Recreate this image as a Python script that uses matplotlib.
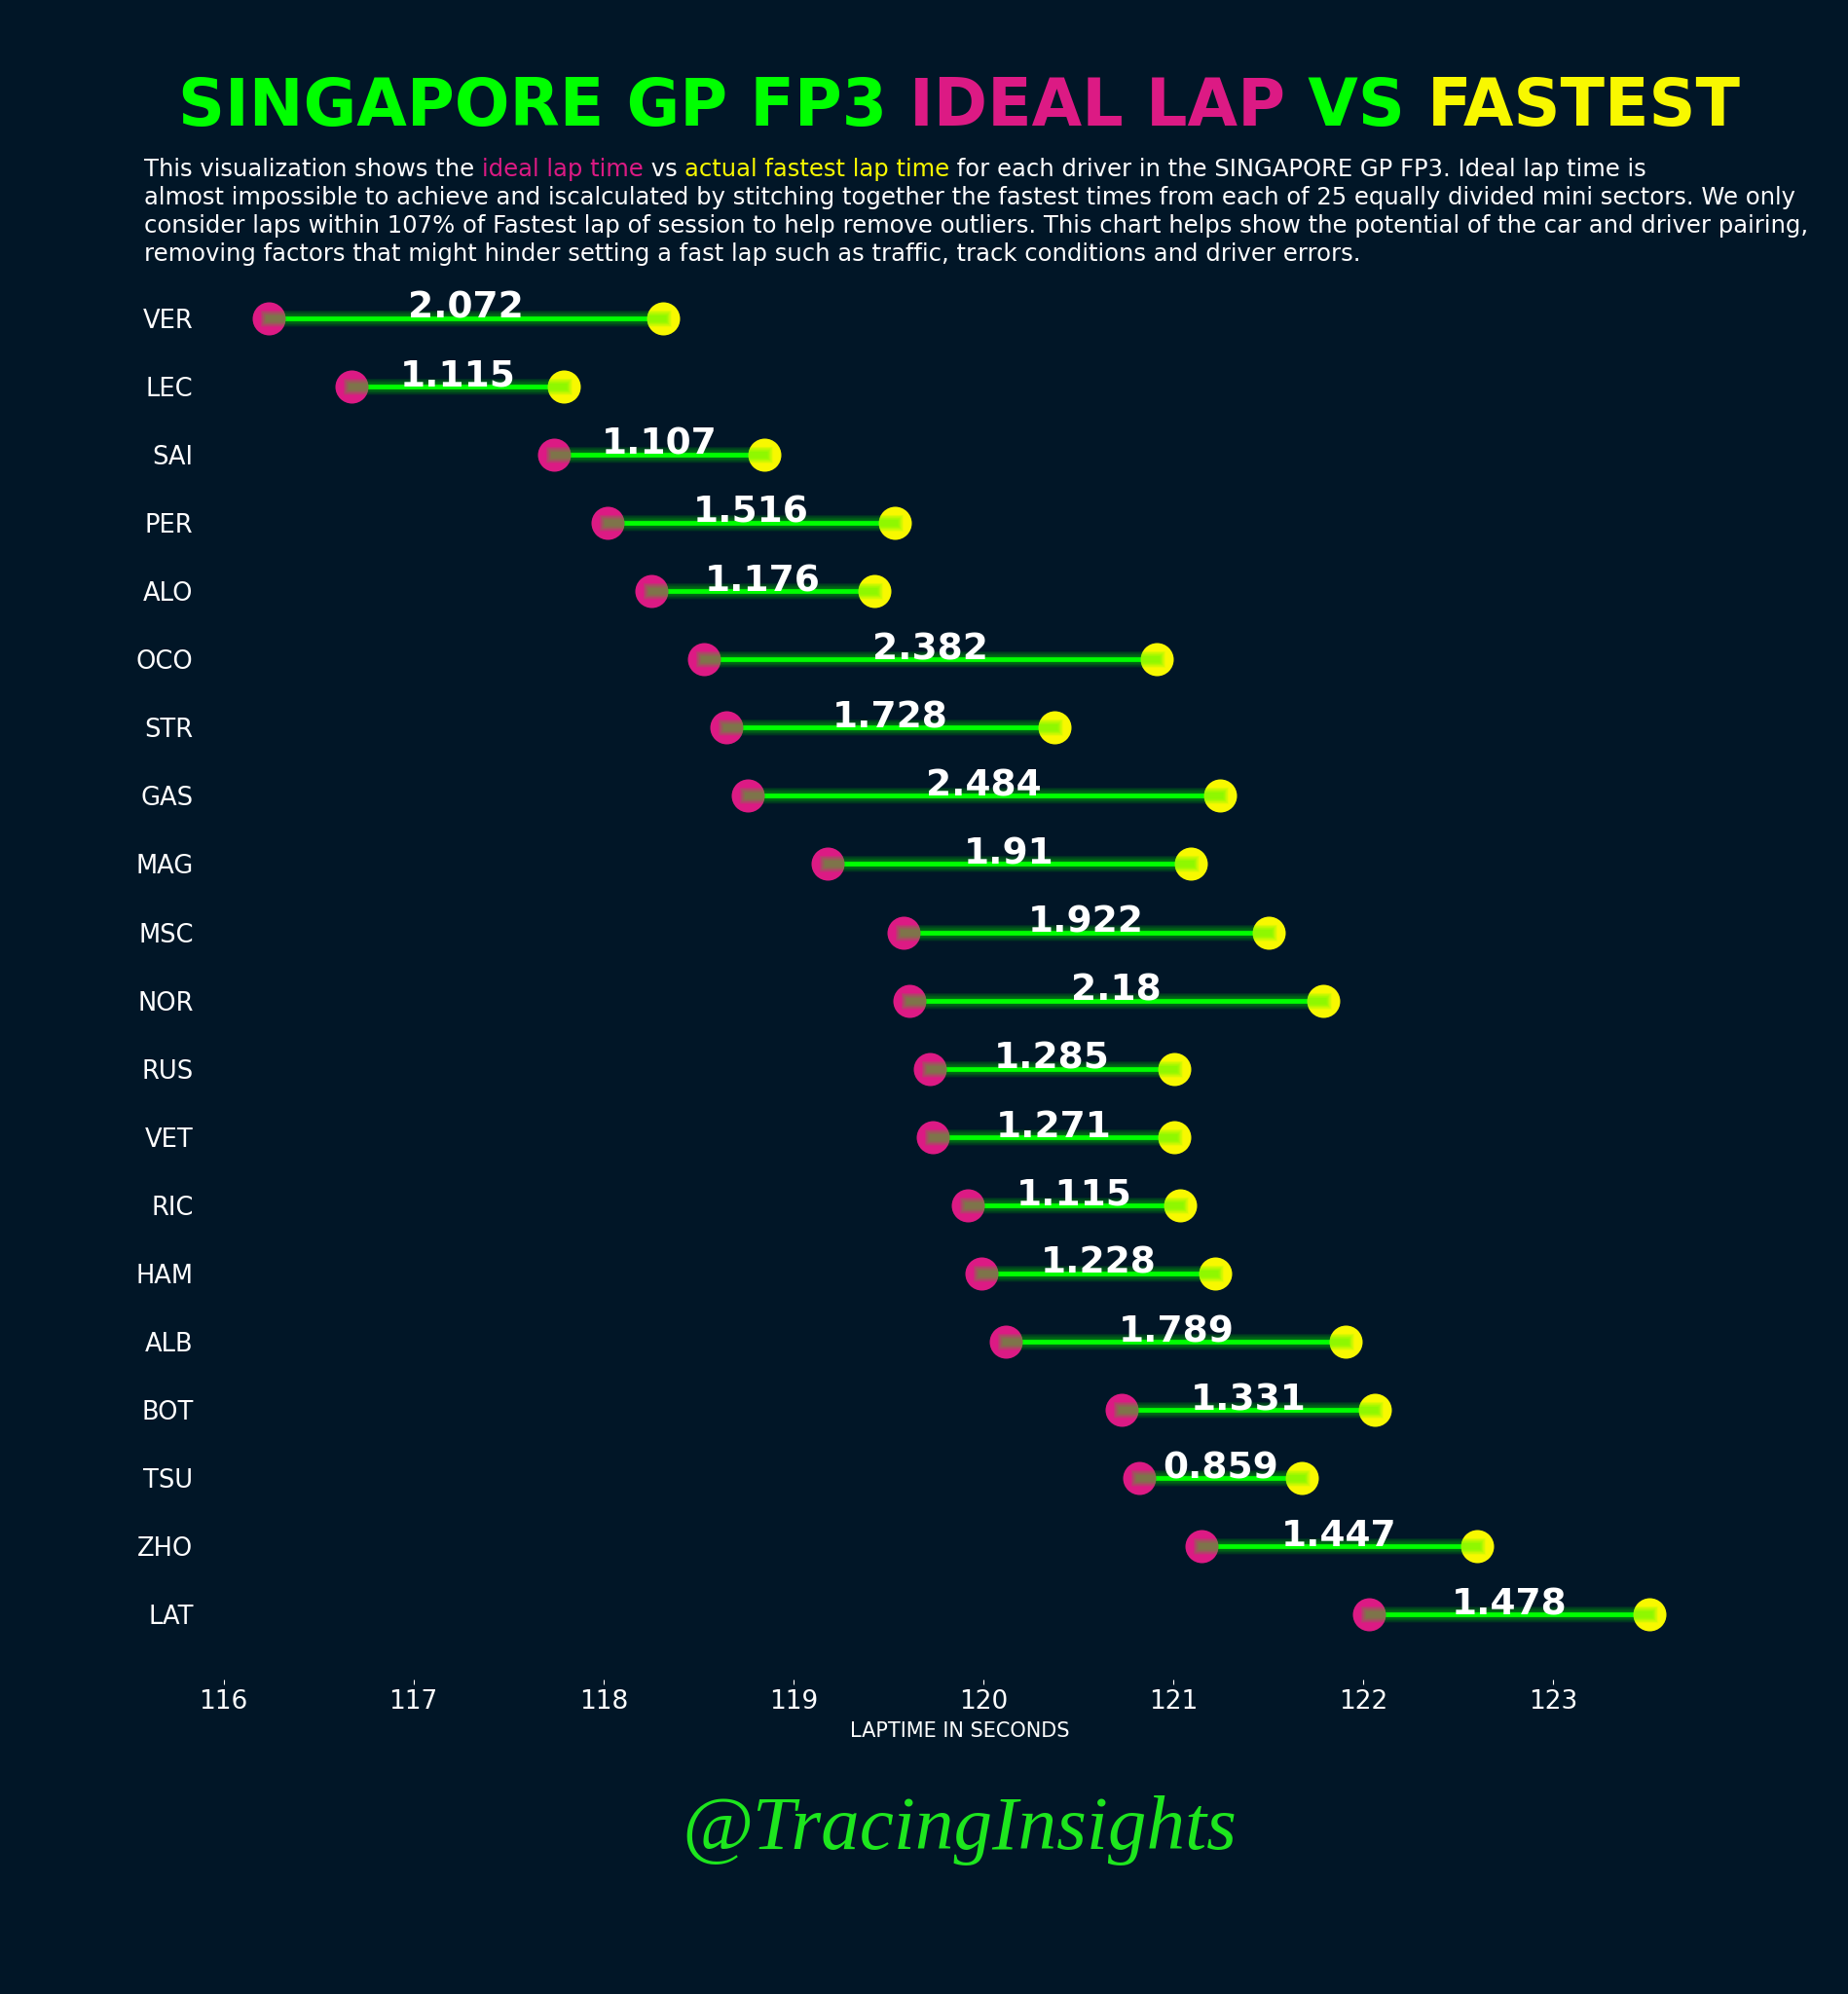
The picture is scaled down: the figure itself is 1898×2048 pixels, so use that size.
import numpy as np
import matplotlib.pyplot as plt

# lap data (seconds)
drivers = ['VER', 'LEC', 'SAI', 'PER', 'ALO', 'OCO', 'STR', 'GAS', 'MAG', 'MSC',
           'NOR', 'RUS', 'VET', 'RIC', 'HAM', 'ALB', 'BOT', 'TSU', 'ZHO', 'LAT']
ideal_lap = [116.240, 116.675, 117.740, 118.020, 118.250, 118.530, 118.645, 118.760,
             119.180, 119.580, 119.610, 119.720, 119.735, 119.920, 119.990, 120.120,
             120.730, 120.820, 121.150, 122.030]
gap = [2.072, 1.115, 1.107, 1.516, 1.176, 2.382, 1.728, 2.484, 1.91, 1.922,
       2.18, 1.285, 1.271, 1.115, 1.228, 1.789, 1.331, 0.859, 1.447, 1.478]
fastest_lap = [i + g for i, g in zip(ideal_lap, gap)]

session = 'SINGAPORE GP FP3'

bg = '#011627'
green = '#00ff00'
pink = '#dc1a84'
yellow = '#f8f800'

plt.rcParams['font.family'] = ['DejaVu Sans']

fig = plt.figure(figsize=(18.98, 20.48), dpi=100, facecolor=bg)
ax = fig.add_axes([0.1083, 0.1577, 0.8217, 0.7153])
ax.set_facecolor(bg)

y = np.arange(len(drivers))

# core line, then dots, then the glow on top (like mplcyberpunk)
ax.hlines(y, ideal_lap, fastest_lap, color=green, lw=3.5, zorder=2)
ax.scatter(ideal_lap, y, s=600, color=pink, zorder=3, linewidths=0)
ax.scatter(fastest_lap, y, s=600, color=yellow, zorder=3, linewidths=0)
for n in range(1, 11):
    ax.hlines(y, ideal_lap, fastest_lap, color=green, lw=3.5 + 0.9 * n,
              alpha=0.05, zorder=4, capstyle='projecting')

for yi, a, b, g in zip(y, ideal_lap, fastest_lap, gap):
    ax.text((a + b) / 2, yi, f'{g}', color='white', fontsize=27, fontweight='bold',
            ha='center', va='baseline', zorder=5)

ax.set_yticks(y, drivers)
ax.invert_yaxis()
ax.tick_params(axis='y', length=0, labelsize=18.5, colors='white', pad=5)
ax.tick_params(axis='x', labelsize=19, colors='white', length=3.5, width=0.8)
ax.set_xlabel('LAPTIME IN SECONDS', color='white', fontsize=15, labelpad=5)
for s in ax.spines.values():
    s.set_visible(False)

fig.canvas.draw()
r = fig.canvas.get_renderer()
W, H = fig.bbox.width, fig.bbox.height


def text_w(s, **kw):
    t = fig.text(0, 0, s + '|', **kw)
    w = t.get_window_extent(r).width
    t.remove()
    t = fig.text(0, 0, '|', **kw)
    w -= t.get_window_extent(r).width
    t.remove()
    return w


def colored_text(x_px, y_px, parts, **kw):
    for s, c in parts:
        fig.text(x_px / W, 1 - y_px / H, s, color=c, ha='left', va='baseline', **kw)
        x_px += text_w(s, **kw)


# title, centred over the axes
title_kw = dict(fontsize=48, fontweight='bold')
title_parts = [(f'{session} ', green), ('IDEAL LAP', pink), (' VS ', green), ('FASTEST', yellow)]
total = text_w(''.join(p[0] for p in title_parts), **title_kw)
ax_bb = ax.get_position()
cx = (ax_bb.x0 + ax_bb.x1) / 2 * W
colored_text(cx - total / 2, 129, title_parts, **title_kw)

# subtitle
sub_kw = dict(fontsize=17.5)
colored_text(148, 181, [
    ('This visualization shows the ', 'white'),
    ('ideal lap time', pink),
    (' vs ', 'white'),
    ('actual fastest lap time', yellow),
    (f' for each driver in the {session}. Ideal lap time is', 'white'),
], **sub_kw)
rest = [
    'almost impossible to achieve and iscalculated by stitching together the fastest times '
    'from each of 25 equally divided mini sectors. We only',
    'consider laps within 107% of Fastest lap of session to help remove outliers. '
    'This chart helps show the potential of the car and driver pairing,',
    'removing factors that might hinder setting a fast lap such as traffic, '
    'track conditions and driver errors.',
]
for k, line in enumerate(rest):
    colored_text(148, 210 + 29.2 * k, [(line, 'white')], **sub_kw)

fig.text(cx / W, 1 - 1880 / H, '@TracingInsights', color='#1ee61e', fontsize=57,
         family='Liberation Serif', style='italic', ha='center', va='center')

fig.savefig('out.png', facecolor=bg)
